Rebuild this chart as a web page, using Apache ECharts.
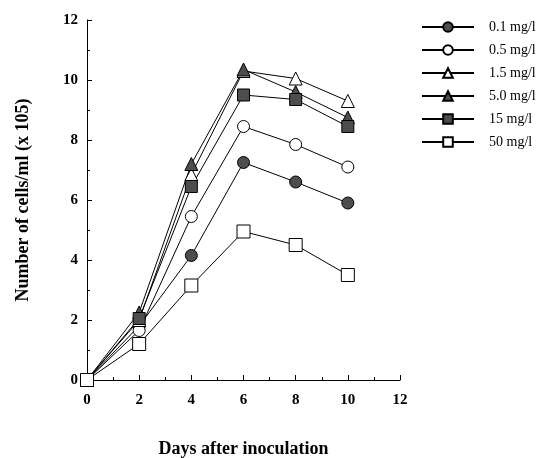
<!DOCTYPE html>
<html>
<head>
<meta charset="utf-8">
<script src="https://cdn.jsdelivr.net/npm/echarts@6/dist/echarts.min.js"></script>
<style>
    html, body {margin: 0; padding: 0; background: #fff;}
    #growthChart {width: 539px; height: 458px;}
</style>
</head>
<body>
<div id="growthChart"></div>
<script>
var days = [0, 2, 4, 6, 8, 10];
var seriesNames = ['0.1 mg/l', '0.5 mg/l', '1.5 mg/l', '5.0 mg/l', '15 mg/l', '50 mg/l'];
var conc01 = [0, 1.8, 4.15, 7.25, 6.6, 5.9];
var conc05 = [0, 1.65, 5.45, 8.45, 7.85, 7.1];
var conc15 = [0, 2.0, 6.85, 10.3, 10.05, 9.3];
var conc50 = [0, 2.25, 7.2, 10.35, 9.6, 8.75];
var conc150 = [0, 2.05, 6.45, 9.5, 9.35, 8.45];
var conc500 = [0, 1.2, 3.15, 4.95, 4.5, 3.5];

var serif = '"Liberation Serif", "DejaVu Serif", serif';

function makeSeries(name, values, symbol, filled, size) {
    return {
        name: name,
        type: 'line',
        data: days.map(function (d, i) { return [d, values[i]]; }),
        symbol: symbol,
        symbolSize: size,
        showAllSymbol: true,
        lineStyle: {color: '#000', width: 1},
        itemStyle: {
            color: filled ? '#4d4d4d' : '#fff',
            borderColor: '#000',
            borderWidth: 1
        },
        emphasis: {disabled: true},
        z: 2
    };
}

var growthChart = echarts.init(document.getElementById('growthChart'));
var options = {
    animation: false,
    legend: {
        orient: 'vertical',
        left: 416,
        top: 15,
        itemWidth: 52,
        itemHeight: 12,
        itemGap: 9,
        textStyle: {fontFamily: serif, fontSize: 14, lineHeight: 14, color: '#000', padding: [0, 0, 0, 10]},
        data: seriesNames
    },
    grid: {left: 87, right: 139, top: 20, bottom: 78, outerBoundsMode: 'none'},
    xAxis: {
        type: 'value',
        min: 0,
        max: 12,
        interval: 2,
        name: 'Days after inoculation',
        nameLocation: 'middle',
        nameGap: 60,
        nameTextStyle: {fontFamily: serif, fontSize: 18, fontWeight: 'bold', color: '#000'},
        axisLine: {lineStyle: {color: '#000', width: 1}},
        axisTick: {inside: true, length: 5, lineStyle: {color: '#000'}},
        minorTick: {show: true, splitNumber: 2, length: 3, lineStyle: {color: '#000'}},
        axisLabel: {fontFamily: serif, fontSize: 15, fontWeight: 'bold', color: '#000', margin: 13},
        splitLine: {show: false}
    },
    yAxis: {
        type: 'value',
        min: 0,
        max: 12,
        interval: 2,
        name: 'Number of cells/ml (x 105)',
        nameLocation: 'middle',
        nameGap: 55,
        nameTextStyle: {fontFamily: serif, fontSize: 18, fontWeight: 'bold', color: '#000'},
        axisLine: {show: true, lineStyle: {color: '#000', width: 1}},
        axisTick: {show: true, inside: true, length: 5, lineStyle: {color: '#000'}},
        minorTick: {show: true, splitNumber: 2, length: 3, lineStyle: {color: '#000'}},
        axisLabel: {fontFamily: serif, fontSize: 15, fontWeight: 'bold', color: '#000', margin: 9},
        splitLine: {show: false}
    },
    series: [
        makeSeries(seriesNames[0], conc01, 'circle', true, 12),
        makeSeries(seriesNames[1], conc05, 'circle', false, 12),
        makeSeries(seriesNames[2], conc15, 'triangle', false, 13),
        makeSeries(seriesNames[3], conc50, 'triangle', true, 13),
        makeSeries(seriesNames[4], conc150, 'rect', true, 12),
        makeSeries(seriesNames[5], conc500, 'rect', false, 13)
    ]
};
growthChart.setOption(options);
</script>
</body>
</html>
